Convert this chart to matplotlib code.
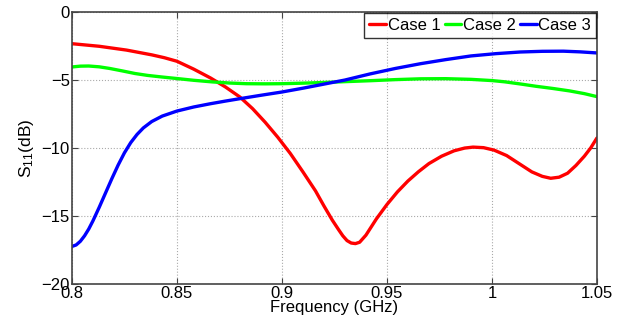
import numpy as np
import matplotlib
matplotlib.use('Agg')
import matplotlib.pyplot as plt

# Frequency points (GHz) and S11 (dB) for the three cases
f1 = [0.800, 0.813, 0.826, 0.838, 0.844, 0.850, 0.858, 0.866, 0.873, 0.880, 0.886,
      0.892, 0.898, 0.904, 0.910, 0.916, 0.920, 0.924, 0.927, 0.929, 0.931, 0.933,
      0.935, 0.937, 0.940, 0.945, 0.950, 0.955, 0.960, 0.965, 0.970, 0.976, 0.982,
      0.987, 0.991, 0.996, 1.001, 1.007, 1.013, 1.019, 1.024, 1.028, 1.032, 1.036,
      1.040, 1.044, 1.047, 1.050]
s1 = [-2.33, -2.52, -2.80, -3.15, -3.36, -3.62, -4.20, -4.85, -5.50, -6.25, -7.10,
      -8.10, -9.20, -10.40, -11.75, -13.15, -14.25, -15.30, -16.00, -16.45, -16.80, -16.98,
      -17.02, -16.92, -16.40, -15.20, -14.15, -13.22, -12.42, -11.74, -11.14, -10.60, -10.20,
      -10.00, -9.93, -9.97, -10.15, -10.55, -11.15, -11.75, -12.08, -12.22, -12.14, -11.85,
      -11.28, -10.60, -10.00, -9.26]

f2 = [0.800, 0.804, 0.808, 0.813, 0.818, 0.824, 0.830, 0.836, 0.843, 0.850, 0.858,
      0.867, 0.875, 0.883, 0.892, 0.900, 0.910, 0.920, 0.930, 0.942, 0.954, 0.966,
      0.978, 0.990, 1.000, 1.006, 1.014, 1.021, 1.029, 1.037, 1.044, 1.050]
s2 = [-4.04, -3.98, -3.97, -4.03, -4.15, -4.33, -4.52, -4.66, -4.78, -4.89, -5.02,
      -5.14, -5.22, -5.27, -5.28, -5.27, -5.23, -5.18, -5.12, -5.05, -4.97, -4.91,
      -4.90, -4.95, -5.04, -5.13, -5.30, -5.46, -5.62, -5.80, -6.00, -6.22]

f3 = [0.800, 0.802, 0.804, 0.806, 0.808, 0.810, 0.813, 0.816, 0.819, 0.822, 0.825,
      0.828, 0.831, 0.834, 0.838, 0.843, 0.850, 0.858, 0.866, 0.873, 0.880, 0.890,
      0.900, 0.910, 0.920, 0.930, 0.942, 0.954, 0.966, 0.978, 0.990, 1.002, 1.0135,
      1.024, 1.034, 1.042, 1.050]
s3 = [-17.23, -17.12, -16.85, -16.45, -15.95, -15.35, -14.35, -13.30, -12.25, -11.25, -10.35,
      -9.60, -9.00, -8.52, -8.05, -7.65, -7.28, -6.98, -6.74, -6.55, -6.37, -6.12,
      -5.88, -5.60, -5.30, -5.00, -4.55, -4.15, -3.80, -3.50, -3.23, -3.06, -2.94,
      -2.89, -2.88, -2.93, -3.01]

plt.rcParams['font.family'] = ['Liberation Sans', 'DejaVu Sans']
plt.rcParams['mathtext.fontset'] = 'custom'
plt.rcParams['mathtext.rm'] = 'Liberation Sans'
plt.rcParams['mathtext.it'] = 'Liberation Sans'

fig = plt.figure(figsize=(6.31, 3.24), dpi=100)
ax = fig.add_axes([0.114, 0.123, 0.832, 0.840])

style = dict(linewidth=2.4, solid_joinstyle='round', solid_capstyle='round')
ax.plot(f1, s1, color='#ff0000', label='Case 1', **style)
ax.plot(f2, s2, color='#00ff00', label='Case 2', **style)
ax.plot(f3, s3, color='#0000ff', label='Case 3', **style)

ax.set_xlim(0.8, 1.05)
ax.set_ylim(-20, 0)
ax.set_xticks([0.8, 0.85, 0.9, 0.95, 1.0, 1.05])
ax.set_xticklabels(['0.8', '0.85', '0.9', '0.95', '1', '1.05'])
ax.set_yticks([-20, -15, -10, -5, 0])
ax.set_yticklabels(['\u221220', '\u221215', '\u221210', '\u22125', '0'])
ax.tick_params(direction='in', labelsize=12, length=4, pad=1.5, top=True, right=True,
               color='#444444')
ax.grid(True, linestyle=':', color='#aaaaaa', linewidth=0.8)
for sp in ax.spines.values():
    sp.set_linewidth(1.2)
    sp.set_color('#444444')

ax.set_xlabel('Frequency (GHz)', fontsize=12, labelpad=-1)
ax.set_ylabel('S$_{11}$(dB)', fontsize=12.5, labelpad=4)

leg = ax.legend(loc='upper right', ncol=3, fontsize=12, frameon=True, fancybox=False,
                borderaxespad=0.05, handlelength=1.0, handletextpad=0.1, columnspacing=0.25,
                borderpad=0.3)
leg.get_frame().set_edgecolor('black')
leg.get_frame().set_linewidth(1.0)

plt.savefig('out.png', dpi=100)
